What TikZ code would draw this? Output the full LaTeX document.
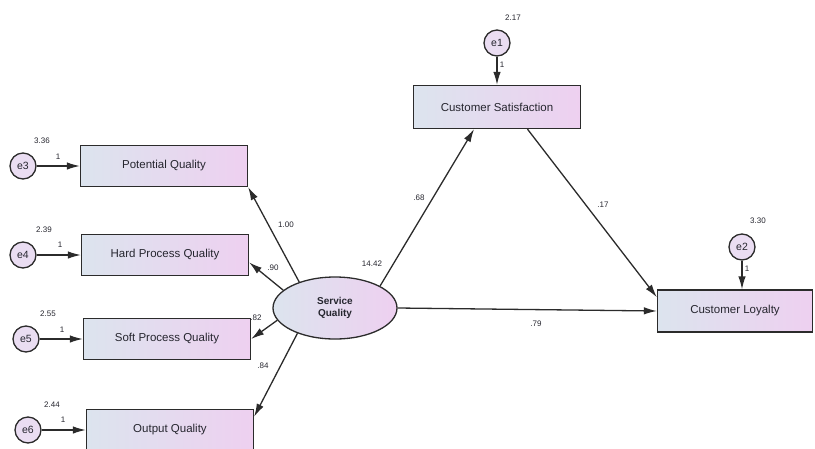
\documentclass[tikz,border=0pt]{standalone}
\usepackage{fontspec}
\setmainfont{Liberation Sans}
\usetikzlibrary{arrows.meta,shapes.geometric}
\definecolor{fillL}{HTML}{DCE4EE}
\definecolor{fillR}{HTML}{EED0F0}
\definecolor{circfill}{HTML}{EADDF2}
\definecolor{edge}{HTML}{2B2B2B}
\definecolor{txt}{HTML}{26262F}
\tikzset{
  obsbox/.style={draw=edge, line width=1.3pt, left color=fillL, right color=fillR,
    minimum width=167pt, minimum height=41pt, inner sep=0pt, font=\fontsize{11.5}{13}\selectfont, text=txt},
  latent/.style={ellipse, draw=edge, line width=1.3pt, left color=fillL, right color=fillR,
    minimum width=124pt, minimum height=62pt, inner sep=0pt, font=\fontsize{10}{11.5}\selectfont\bfseries, text=txt, align=center},
  errc/.style={circle, draw=edge, line width=1.3pt, fill=circfill, minimum size=26pt, inner sep=0pt,
    font=\fontsize{10.5}{12}\selectfont, text=txt},
  lab/.style={font=\fontsize{8}{9}\selectfont, text=txt, inner sep=0pt},
  conn/.style={draw=edge, line width=1.3pt, -{Latex[length=13pt,width=7.5pt]}}
}
\begin{document}
\begin{tikzpicture}[x=1pt,y=-1pt]
\useasboundingbox (0,0) rectangle (815,448);
% observed boxes
\node[obsbox] (pq) at (164,166) {Potential Quality};
\node[obsbox] (hpq) at (165,255) {Hard Process Quality};
\node[obsbox] (spq) at (167,339) {Soft Process Quality};
\node[obsbox] (oq) at (170,430) {Output Quality};
\node[obsbox, minimum height=43pt] (cs) at (497,107) {Customer Satisfaction};
\node[obsbox, minimum width=155pt, minimum height=42pt] (cl) at (735,311) {Customer Loyalty};
% latent
\node[latent] (sq) at (335,308) {Service\\Quality};
% errors
\node[errc] (e1) at (497,43) {e1};
\node[errc] (e2) at (742,247) {e2};
\node[errc] (e3) at (23,166) {e3};
\node[errc] (e4) at (23,255) {e4};
\node[errc] (e5) at (26,339) {e5};
\node[errc] (e6) at (28,430) {e6};
% error arrows
\draw[conn] (e1) -- (cs.north);
\draw[conn] (e2.south) -- (e2.south |- cl.north);
\draw[conn] (e3) -- (pq.west);
\draw[conn] (e4) -- (hpq.west);
\draw[conn] (e5) -- (spq.west);
\draw[conn] (e6) -- (oq.west);
% structural arrows
\draw[conn] (sq.144) -- (pq.south east);
\draw[conn] (sq.161) -- (hpq.-5);
\draw[conn] (sq.192) -- (spq.east);
\draw[conn] (sq.214) -- (oq.9);
\draw[conn] (sq.26) -- (cs.-136);
\draw[conn] (cs.-36) -- (cl.170);
\draw[conn] (sq.east) -- (cl.west);
% variance labels
\node[lab] (v1) at (513,18) {2.17};
\node[lab] (v2) at (758,221) {3.30};
\node[lab] (v3) at (42,141) {3.36};
\node[lab] (v4) at (44,230) {2.39};
\node[lab] (v5) at (48,314) {2.55};
\node[lab] (v6) at (52,405) {2.44};
\node[lab] (vsq) at (372,264) {14.42};
% fixed loadings
\node[lab] (f1) at (502,65) {1};
\node[lab] (f2) at (747,269) {1};
\node[lab] (f3) at (58,157) {1};
\node[lab] (f4) at (60,245) {1};
\node[lab] (f5) at (62,330) {1};
\node[lab] (f6) at (63,420) {1};
% path coefficients
\node[lab] (p1) at (286,225) {1.00};
\node[lab] (p2) at (273,268) {.90};
\node[lab] (p3) at (256,318) {.82};
\node[lab] (p4) at (263,366) {.84};
\node[lab] (p5) at (419,198) {.68};
\node[lab] (p6) at (603,205) {.17};
\node[lab] (p7) at (536,324) {.79};
\end{tikzpicture}
\end{document}
